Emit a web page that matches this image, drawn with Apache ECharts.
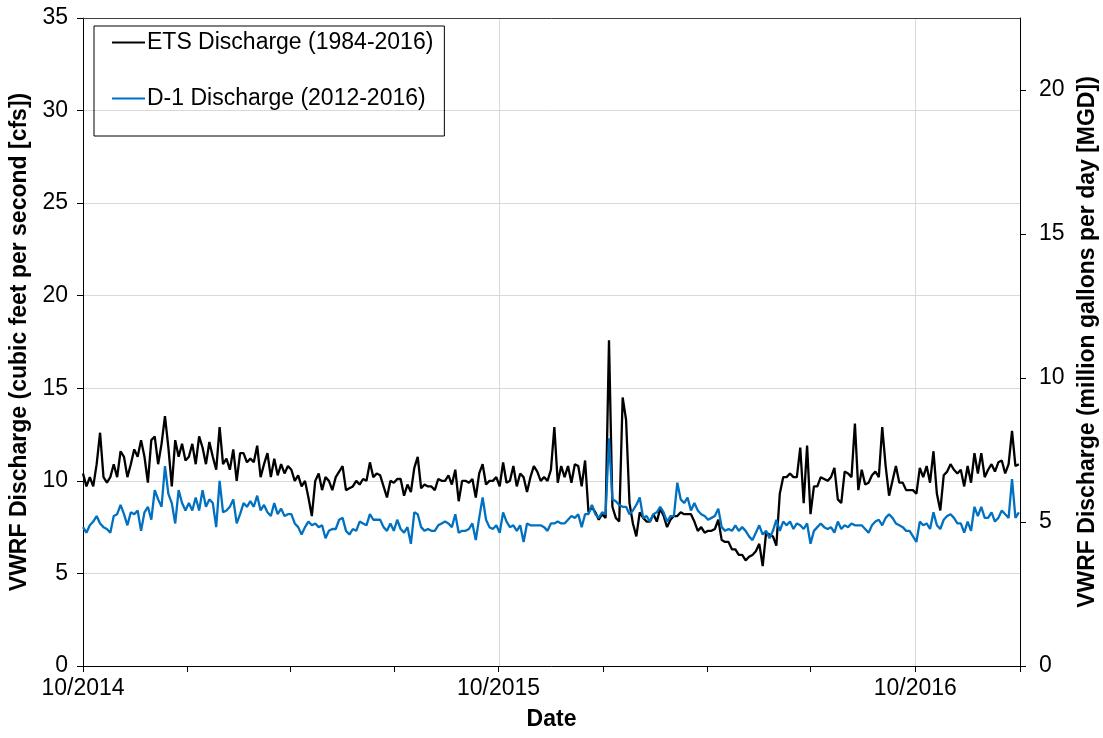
<!DOCTYPE html>
<html><head><meta charset="utf-8">
<script src="https://cdn.jsdelivr.net/npm/echarts@6/dist/echarts.min.js"></script>
<style>html,body{margin:0;padding:0;background:#fff}#c{width:1103px;height:738px}</style>
</head><body><div id="c"></div>
<script>
// Days counted from 10/1/2014, one reading every STEP_DAYS days
const STEP_DAYS = 3;
const etsName = 'ETS Discharge (1984-2016)';
const d1Name = 'D-1 Discharge (2012-2016)';
const etsValues = [
10.4,9.7,10.2,9.7,10.9,12.6,10.2,9.9,10.2,10.9,10.2,11.6,11.3,10.2,10.9,11.7,11.3,12.2,11.3,9.9,12.2,12.4,10.9,12.0,13.5,11.8,9.7,12.2,11.3,12.0,11.1,11.3,12.0,10.9,12.4,
11.8,10.9,12.1,11.3,10.6,12.9,10.9,11.2,10.6,11.7,10.0,11.5,11.5,11.0,11.2,11.0,11.9,10.2,10.9,11.5,10.2,11.2,10.3,10.9,10.4,10.8,10.6,10.0,10.3,9.7,10.0,9.1,8.1,10.0,
10.4,9.5,10.2,10.0,9.5,10.2,10.5,10.8,9.5,9.6,9.7,10.0,9.8,10.1,10.0,11.0,10.2,10.4,10.3,9.7,9.1,10.0,9.9,10.1,10.1,9.2,9.8,9.4,10.7,11.3,9.6,9.8,9.7,
9.7,9.5,10.1,10.0,10.0,10.3,9.8,10.6,8.9,10.0,10.0,9.9,10.1,9.1,10.4,10.9,9.8,10.0,10.0,10.2,9.7,11.0,9.9,10.0,10.8,9.7,10.4,10.2,9.4,10.2,10.8,10.5,10.0,10.2,
10.0,10.6,12.9,9.9,10.8,10.2,10.8,9.9,10.9,10.8,9.7,11.1,8.3,8.6,8.3,7.9,8.2,8.0,17.6,8.6,8.0,7.8,14.5,13.3,8.8,7.7,7.0,8.3,8.0,7.8,7.8,8.2,7.8,8.5,
8.1,7.5,7.9,8.1,8.1,8.3,8.2,8.2,8.2,7.8,7.3,7.5,7.2,7.3,7.3,7.4,7.9,6.8,6.7,6.7,6.3,6.3,6.0,6.0,5.7,5.9,6.0,6.2,6.6,5.4,7.2,7.1,7.0,
6.5,9.3,10.2,10.2,10.4,10.2,10.2,11.8,8.8,11.9,8.2,9.7,9.7,10.2,10.1,10.0,10.2,10.7,9.0,8.8,10.5,10.4,10.2,13.1,9.5,10.6,9.8,9.9,10.3,10.5,10.2,12.9,10.8,9.2,
10.0,10.8,9.9,9.9,9.5,9.5,9.5,9.3,10.7,10.2,10.8,9.9,11.6,9.3,8.4,10.3,10.5,10.9,10.6,10.4,10.6,9.7,10.8,9.9,11.5,10.4,11.5,10.2,10.6,10.9,10.5,11.0,11.1,10.4,10.9,12.7,10.8,10.9
];
const d1Values = [
7.5,7.2,7.6,7.8,8.1,7.7,7.5,7.4,7.2,8.1,8.2,8.7,8.2,7.6,8.3,8.2,8.4,7.3,8.3,8.6,7.9,9.5,9.0,8.6,10.8,9.3,8.8,7.7,9.5,8.8,8.4,8.8,8.4,9.1,8.4,
9.5,8.6,9.0,8.8,7.5,10.0,8.3,8.4,8.6,9.0,7.7,8.2,8.8,8.6,8.9,8.6,9.2,8.4,8.7,8.3,8.1,8.8,8.2,8.5,8.1,8.2,8.2,7.7,7.5,7.1,7.5,7.8,7.6,7.7,
7.5,7.6,6.9,7.3,7.4,7.4,7.9,8.0,7.3,7.1,7.4,7.3,7.8,7.7,7.6,8.2,7.9,7.9,7.9,7.5,7.3,7.7,7.3,7.9,7.4,7.2,7.5,6.6,8.3,8.2,7.5,7.3,7.4,
7.3,7.3,7.6,7.7,7.8,7.7,7.5,8.2,7.2,7.3,7.3,7.4,7.7,6.8,8.0,9.1,7.9,7.5,7.4,7.6,7.2,8.3,7.8,7.5,7.6,7.3,7.6,6.7,7.7,7.6,7.6,7.6,7.6,7.5,
7.3,7.7,7.7,7.8,7.7,7.7,7.9,8.1,8.0,8.2,7.5,8.2,8.2,8.7,8.2,8.0,8.3,8.2,12.3,9.0,8.9,8.7,8.6,8.6,8.2,8.4,8.7,9.1,8.0,8.1,7.8,8.2,8.3,8.6,
8.3,7.8,8.1,8.1,9.9,9.0,8.8,9.1,8.4,8.8,8.4,8.2,8.1,7.9,8.0,8.1,8.5,7.5,7.3,7.4,7.3,7.6,7.3,7.5,7.3,7.0,6.8,7.2,7.6,7.1,7.3,6.9,7.3,
7.9,7.3,7.8,7.6,7.8,7.4,7.7,7.6,7.4,7.7,6.6,7.3,7.5,7.7,7.5,7.4,7.5,7.2,7.8,7.4,7.6,7.5,7.7,7.6,7.6,7.6,7.4,7.2,7.6,7.8,7.9,7.6,8.0,8.2,
8.0,7.7,7.6,7.5,7.3,7.3,7.0,6.7,7.8,7.6,7.7,7.4,8.3,7.6,7.4,7.9,8.1,8.2,8.0,7.7,7.7,7.2,7.8,7.3,8.6,8.1,8.6,8.0,8.0,8.3,7.8,8.0,8.4,8.2,8.0,10.1,8.0,8.3
];
// x axis: day offsets of quarter ticks and labelled ticks
const xTickDays = [0, 92, 182, 273, 365, 457, 548, 639, 731, 823];
const xLabelDays = [0, 365, 731];
const xLabels = ['10/2014', '10/2015', '10/2016'];
const X_MAX = 823;
const CFS_MAX = 35;
const MGD_MAX = 22.5;
const mgdTicks = [0, 5, 10, 15, 20];

const FONT = '"Liberation Sans", Arial, sans-serif';
const FS = 23;
const chart = echarts.init(document.getElementById('c'), null, {renderer: 'canvas'});
const toPairs = arr => arr.map((v, i) => [i * STEP_DAYS, v]);

chart.setOption({
  animation: false,
  backgroundColor: '#fff',
  textStyle: {fontFamily: FONT},
  grid: {left: 83, right: 83, top: 18, bottom: 72, containLabel: false, outerBoundsMode: 'none'},
  legend: {
    orient: 'vertical', left: 94, top: 26,
    data: [etsName, d1Name],
    icon: 'rect',
    itemWidth: 33, itemHeight: 2, itemGap: 33,
    padding: [5, 11, 26, 18],
    borderColor: '#000', borderWidth: 1,
    textStyle: {fontFamily: FONT, fontSize: FS, color: '#000', padding: [0, 0, 0, -3]}
  },
  xAxis: [{
    type: 'value', min: 0, max: X_MAX, position: 'bottom',
    name: 'Date', nameLocation: 'middle', nameGap: 42,
    nameTextStyle: {fontFamily: FONT, fontSize: FS, fontWeight: 'bold', color: '#000'},
    axisLine: {show: true, onZero: false, lineStyle: {color: '#000', width: 1}},
    axisTick: {show: true, length: 6, inside: false, customValues: xTickDays, lineStyle: {color: '#000'}},
    axisLabel: {
      customValues: xLabelDays, margin: 11, color: '#000', fontSize: FS, fontFamily: FONT,
      formatter: v => { const k = xLabelDays.indexOf(Math.round(v)); return k >= 0 ? xLabels[k] : ''; }
    },
    splitLine: {show: false}
  }, {
    type: 'value', min: 0, max: X_MAX, interval: 365.5, position: 'top',
    axisLine: {show: true, onZero: false, lineStyle: {color: '#404040', width: 1}},
    axisTick: {show: false}, axisLabel: {show: false},
    splitLine: {show: true, lineStyle: {color: '#d9d9d9', width: 1}}
  }],
  yAxis: [{
    type: 'value', min: 0, max: CFS_MAX, interval: 5, position: 'left',
    name: 'VWRF Discharge (cubic feet per second [cfs])', nameLocation: 'middle', nameGap: 52, nameRotate: 90,
    nameTextStyle: {fontFamily: FONT, fontSize: FS, fontWeight: 'bold', color: '#000'},
    axisLine: {show: true, onZero: false, lineStyle: {color: '#000', width: 1}},
    axisTick: {show: true, length: 6, lineStyle: {color: '#000'}},
    axisLabel: {margin: 15, color: '#000', fontSize: FS, fontFamily: FONT},
    splitLine: {show: true, lineStyle: {color: '#d9d9d9', width: 1}}
  }, {
    type: 'value', min: 0, max: MGD_MAX, interval: 5, position: 'right',
    name: 'VWRF Discharge (million gallons per day [MGD])', nameLocation: 'middle', nameGap: 56, nameRotate: 90,
    nameTextStyle: {fontFamily: FONT, fontSize: FS, fontWeight: 'bold', color: '#000'},
    axisLine: {show: true, onZero: false, lineStyle: {color: '#000', width: 1}},
    axisTick: {show: true, length: 6, customValues: mgdTicks, lineStyle: {color: '#000'}},
    axisLabel: {margin: 19, color: '#000', fontSize: FS, fontFamily: FONT, customValues: mgdTicks},
    splitLine: {show: false}
  }],
  series: [{
    name: etsName, type: 'line', xAxisIndex: 0, yAxisIndex: 0,
    data: toPairs(etsValues), symbol: 'none', showSymbol: false,
    lineStyle: {color: '#000', width: 2.3}, itemStyle: {color: '#000'}, z: 3
  }, {
    name: d1Name, type: 'line', xAxisIndex: 0, yAxisIndex: 0,
    data: toPairs(d1Values), symbol: 'none', showSymbol: false,
    lineStyle: {color: '#0070C0', width: 2.3}, itemStyle: {color: '#0070C0'}, z: 4
  }]
});
</script>
</body></html>
